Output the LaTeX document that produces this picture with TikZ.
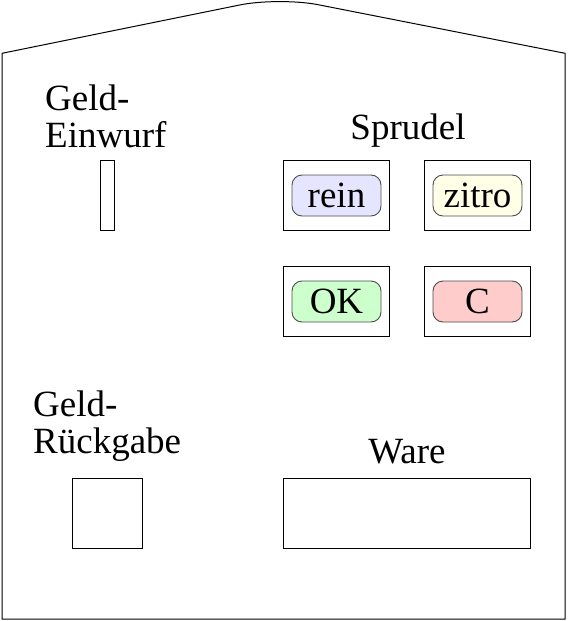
\documentclass[tikz,border=0pt]{standalone}
\usepackage{fontspec}
\setmainfont{Liberation Serif}
\begin{document}
\begin{tikzpicture}[x=1pt,y=-1pt,
  txt/.style={font=\fontsize{37}{37}\selectfont,inner sep=0pt},
  frame/.style={draw,line width=1pt,minimum width=#1,minimum height=70pt,inner sep=0pt},
  knopf/.style={draw=black!70,line width=0.9pt,rounded corners=10pt,minimum width=89pt,minimum height=41pt,inner sep=0pt,fill=#1,font=\fontsize{37}{38}\selectfont}]
\useasboundingbox (0,0) rectangle (568,621);
% outline
\draw[line width=1pt] (2,619) -- (2,53.3) [rounded corners=40pt] -- (279,-3) [sharp corners] -- (565,53.3) -- (565,619) -- cycle;
% labels
\node[txt,anchor=base west,align=left] (lein) at (45,147) {Geld-\\Einwurf};
\node[txt,anchor=base] (lspr) at (408,139) {Sprudel};
\node[txt,anchor=base west,align=left] (lrueck) at (33,453) {Geld-\\Rückgabe};
\node[txt,anchor=base] (lware) at (407,463) {Ware};
% boxes
\node[frame=14pt] (einwurf) at (107,195) {};
\node[frame=106pt] (breinf) at (336,195) {};
\node[frame=106pt] (bzitrof) at (477,195) {};
\node[frame=106pt] (bokf) at (336,301) {};
\node[frame=106pt] (bcf) at (477,301) {};
\node[frame=70pt] (rueck) at (107,513) {};
\node[frame=247pt] (ware) at (406.5,513) {};
% buttons
\node[knopf=blue!10] (rein) at (336.5,195.5) {rein};
\node[knopf=yellow!10] (zitro) at (477.5,195.5) {zitro};
\node[knopf=green!20] (ok) at (336.5,301.5) {OK};
\node[knopf=red!20] (c) at (477.5,301.5) {C};
\end{tikzpicture}
\end{document}
